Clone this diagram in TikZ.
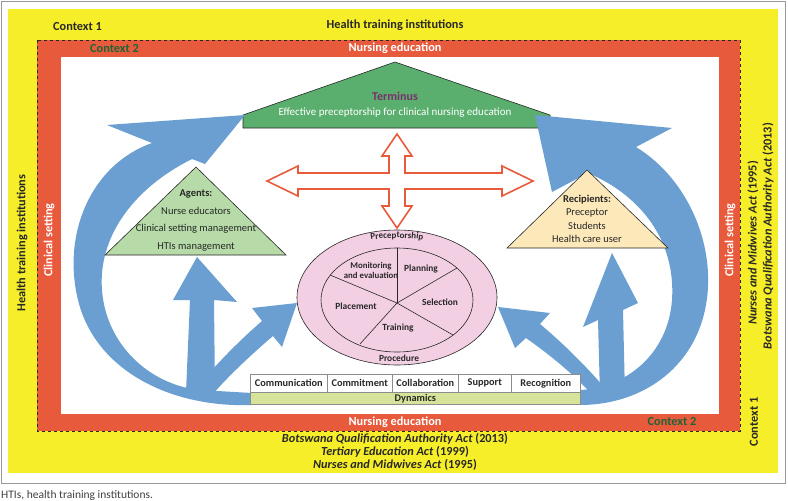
\documentclass[tikz,border=0pt]{standalone}
\usepackage{fontspec}
\setmainfont{Carlito}
\usetikzlibrary{decorations.text}
\definecolor{ctxyellow}{RGB}{247,238,42}
\definecolor{ctxred}{RGB}{232,90,60}
\definecolor{flowblue}{RGB}{107,159,209}
\definecolor{termgreen}{RGB}{91,175,110}
\definecolor{agentgreen}{RGB}{182,219,168}
\definecolor{recipbeige}{RGB}{252,232,184}
\definecolor{procpink}{RGB}{243,207,228}
\definecolor{dynlime}{RGB}{213,227,155}
\definecolor{ctxdark}{RGB}{30,100,55}
\definecolor{termpurple}{RGB}{122,46,110}
\definecolor{inkgray}{RGB}{40,40,40}
\tikzset{
  ctxtext/.style={inner sep=0pt, text=inkgray, font=\fontsize{12.3}{14}\selectfont\bfseries},
  ctxtwo/.style={inner sep=0pt, text=ctxdark, font=\fontsize{12.3}{14}\selectfont\bfseries},
  nurstext/.style={inner sep=0pt, text=white, font=\fontsize{12.3}{14}\selectfont\bfseries},
  acttext/.style={inner sep=0pt, text=inkgray, font=\fontsize{12.3}{14}\selectfont\bfseries},
  figtext/.style={inner sep=0pt, text=inkgray, font=\fontsize{10.5}{12}\selectfont},
  figbold/.style={figtext, font=\fontsize{10.5}{12}\selectfont\bfseries},
  procfont/.style={inner sep=0pt, text=inkgray, align=center, font=\fontsize{9.4}{10}\selectfont\bfseries},
  figline/.style={draw=inkgray, line width=0.6pt},
  flowarrow/.style={fill=flowblue},
  crossarrow/.style={draw=ctxred, line width=1.6pt, fill=white, line join=miter},
  dyncell/.style={draw=black!45, line width=0.6pt, fill=white, inner sep=0pt, minimum height=18pt,
    text=inkgray, font=\fontsize{10.3}{11}\selectfont\bfseries, anchor=north west},
}

\begin{document}
\begin{tikzpicture}[x=1pt, y=-1pt]
\useasboundingbox (0,0) rectangle (788,501);

% frames: context 1 and context 2
\draw[black!40, line width=0.8pt] (1,1) rectangle (785,483);
\fill[ctxyellow] (8,9) rectangle (778,473);
\fill[ctxred] (37,40) rectangle (740,431);
\draw[inkgray, dashed, line width=0.6pt] (37,40) rectangle (740,431);
\fill[white] (61,57) rectangle (719,414);

\node[ctxtext, anchor=west] (ctxone) at (53,27) {Context 1};
\node[ctxtext] (htitop) at (395,25) {Health training institutions};
\node[ctxtwo, anchor=west] (ctxtwotop) at (90,49) {Context 2};
\node[nurstext] (nurstop) at (395,48) {Nursing education};
\node[nurstext] (nursbot) at (395,422) {Nursing education};
\node[ctxtwo] (ctxtwobot) at (672,422) {Context 2};
\node[ctxtext, rotate=90] (htileft) at (22,243) {Health training institutions};
\node[nurstext, rotate=90] (clinleft) at (49,240) {Clinical setting};
\node[nurstext, rotate=90] (clinright) at (730,240) {Clinical setting};
\node[acttext, rotate=90] (actnurses) at (753,243) {\textit{Nurses and Midwives Act} (1995)};
\node[acttext, rotate=90] (actbqa) at (768,236) {\textit{Botswana Qualification Authority Act} (2013)};
\node[ctxtext, rotate=90] (ctxoneright) at (754,422) {Context 1};
\node[acttext] (botbqa) at (395,439) {\textit{Botswana Qualification Authority Act} (2013)};
\node[acttext] (bottea) at (395,452) {\textit{Tertiary Education Act} (1999)};
\node[acttext] (botnma) at (395,465) {\textit{Nurses and Midwives Act} (1995)};
\node[inner sep=0pt, anchor=west, text=black!75, font=\fontsize{11.5}{13}\selectfont] (caption) at (1,495) {HTIs, health training institutions.};

% terminus
\draw[figline, fill=termgreen] (243,115) -- (395,62) -- (550,115) -- (550,128) -- (243,128) -- cycle;
\node[inner sep=0pt, text=termpurple, font=\fontsize{12}{14}\selectfont\bfseries] (terminus) at (395,96) {Terminus};
\node[inner sep=0pt, text=white, font=\fontsize{11}{13}\selectfont] (termtext) at (395,113) {Effective preceptorship for clinical nursing education};

% blue flows, left
\fill[flowarrow] (245,115) -- (205,164) -- (192,159)
  .. controls (130,190) and (98,240) .. (102,290)
  .. controls (106,345) and (150,385) .. (200,390)
  -- (252,393) -- (252,405)
  .. controls (170,408) and (95,370) .. (78,300)
  .. controls (62,235) and (90,165) .. (152,143)
  -- (107,125) -- cycle;
\fill[flowarrow] (197,257) -- (237,302) -- (214,300) -- (215,392) -- (186,392) -- (190,300) -- (173,300) -- cycle;
\fill[flowarrow] (297,303) -- (282,347) -- (273,336)
  .. controls (245,360) and (225,380) .. (212,395) -- (195,390)
  .. controls (215,365) and (240,340) .. (262,321) -- (252,308) -- cycle;

% blue flows, right
\fill[flowarrow] (535,115) -- (672,128) -- (636,147)
  .. controls (690,180) and (718,250) .. (705,310)
  .. controls (692,370) and (640,405) .. (580,405)
  -- (580,390)
  .. controls (625,388) and (668,355) .. (672,300)
  .. controls (676,240) and (640,195) .. (588,173)
  -- (552,192) -- cycle;
\fill[flowarrow] (612,253) -- (638,303) -- (623,310) -- (625,395) -- (600,395) -- (598,320) -- (583,327) -- cycle;
\fill[flowarrow] (498,307) -- (550,313) -- (540,324)
  .. controls (565,345) and (590,370) .. (608,392) -- (595,398)
  .. controls (575,375) and (550,355) .. (526,338) -- (515,348) -- cycle;

% agents and recipients
\draw[figline, fill=agentgreen] (196,167) -- (286,255) -- (105,255) -- cycle;
\node[figbold] (agents) at (196,194) {Agents:};
\node[figtext] (agnurse) at (196,211) {Nurse educators};
\node[figtext] (agclin) at (196,229) {Clinical setting management};
\node[figtext] (aghti) at (196,247) {HTIs management};

\draw[figline, fill=recipbeige] (587,170) -- (668,248) -- (507,248) -- cycle;
\node[figbold] (recip) at (587,200) {Recipients:};
\node[figtext] (recprec) at (587,213) {Preceptor};
\node[figtext] (recstud) at (587,226) {Students};
\node[figtext] (recuser) at (587,239) {Health care user};

% four-way arrow
\draw[crossarrow] (397,134) -- (412,156) -- (405,156) -- (405,173) -- (502,173) -- (502,166)
  -- (533,181) -- (502,196) -- (502,189) -- (405,189) -- (405,206) -- (412,206) -- (397,228)
  -- (382,206) -- (389,206) -- (389,189) -- (298,189) -- (298,196) -- (267,181) -- (298,166)
  -- (298,173) -- (389,173) -- (389,156) -- (382,156) -- cycle;

% procedure wheel
\draw[figline, fill=procpink] (397,297.5) ellipse [x radius=100, y radius=67.5];
\draw[figline] (397,300) ellipse [x radius=76, y radius=52];
\coordinate (hub) at (397,303);
\draw[figline] (hub) -- (397,248);
\draw[figline] (hub) -- (330,275);
\draw[figline] (hub) -- (457,268);
\draw[figline] (hub) -- (453,335);
\draw[figline] (hub) -- (360,344);
\node[procfont, font=\fontsize{8.8}{10}\selectfont\bfseries] (monitor) at (371,270) {Monitoring\\and evaluation};
\node[procfont] (planning) at (421,269) {Planning};
\node[procfont] (selection) at (440,302) {Selection};
\node[procfont] (training) at (398,328) {Training};
\node[procfont] (placement) at (356,306) {Placement};
\path[decorate, decoration={text along path, text align=center,
  text={|\fontsize{9}{10}\selectfont\bfseries\color{inkgray}|Preceptorship}}]
  (345,247) .. controls (372,235) and (422,235) .. (449,247);
\node[procfont] (procedure) at (399,358) {Procedure};

% dynamics
\node[dyncell, minimum width=77pt] (comm) at (250,374) {Communication};
\node[dyncell, minimum width=65pt] (commit) at (327,374) {Commitment};
\node[dyncell, minimum width=66pt] (collab) at (392,374) {Collaboration};
\node[dyncell, minimum width=53pt] (support) at (458,374) {Support};
\node[dyncell, minimum width=69pt] (recog) at (511,374) {Recognition};
\node[dyncell, fill=dynlime, minimum width=330pt, minimum height=12pt] (dynamics) at (250,392) {Dynamics};
\end{tikzpicture}
\end{document}
